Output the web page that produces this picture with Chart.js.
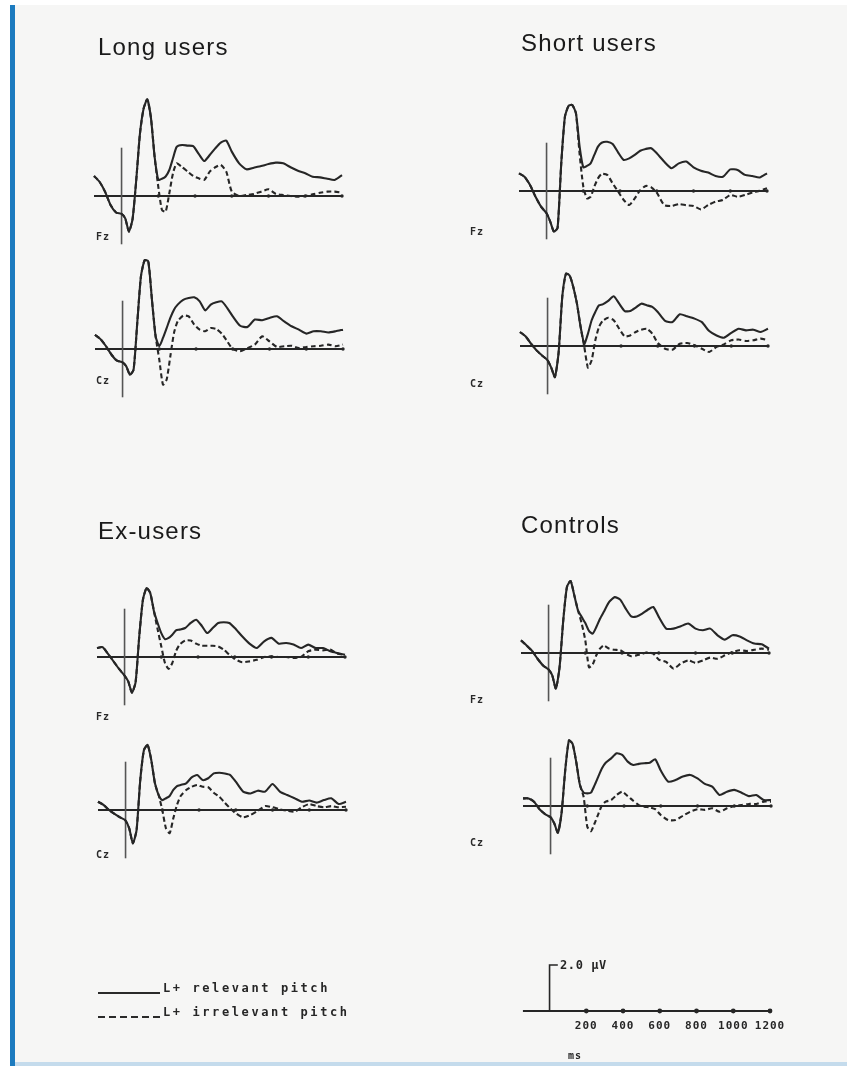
<!DOCTYPE html>
<html>
<head>
<meta charset="utf-8">
<script src="https://cdn.jsdelivr.net/npm/chart.js@4.4.1/dist/chart.umd.min.js"></script>
<style>
  html, body { margin: 0; padding: 0; }
  body { width: 847px; height: 1066px; background: #fff; position: relative; overflow: hidden; }
  #sheet { position: absolute; left: 15px; top: 5px; width: 832px; height: 1057px; background: #f6f6f5; }
  #bar { position: absolute; left: 10px; top: 5px; width: 5px; height: 1061px; background: #1c7bbf; }
  #foot { position: absolute; left: 15px; top: 1062px; width: 832px; height: 4px; background: #c4dbec; }
  #fig { position: absolute; left: 0; top: 0; width: 847px; height: 1066px; filter: blur(0.4px); }
  canvas { position: absolute; }
  .title { position: absolute; font-family: "Liberation Sans", Arial, sans-serif; font-size: 24px;
           line-height: 24px; letter-spacing: 1.2px; color: #1a1a1a; white-space: nowrap; }
  .site { position: absolute; font-family: "DejaVu Sans Mono", monospace; font-weight: bold;
          font-size: 10px; line-height: 12px; letter-spacing: 1px; color: #2a2a2a; }
  .mono { position: absolute; font-family: "DejaVu Sans Mono", monospace; font-weight: bold;
          font-size: 12px; line-height: 14px; color: #262626; white-space: nowrap; }
</style>
</head>
<body>
<div id="sheet"></div>
<div id="bar"></div>
<div id="foot"></div>
<div id="fig">
  <div class="title" style="left:98px; top:35px;">Long users</div>
  <div class="title" style="left:521px; top:31px;">Short users</div>
  <div class="title" style="left:98px; top:519px;">Ex-users</div>
  <div class="title" style="left:521px; top:513px;">Controls</div>

  <div class="site" style="left:96px; top:231px;">Fz</div>
  <div class="site" style="left:96px; top:375px;">Cz</div>
  <div class="site" style="left:470px; top:226px;">Fz</div>
  <div class="site" style="left:470px; top:378px;">Cz</div>
  <div class="site" style="left:96px; top:711px;">Fz</div>
  <div class="site" style="left:96px; top:849px;">Cz</div>
  <div class="site" style="left:470px; top:694px;">Fz</div>
  <div class="site" style="left:470px; top:837px;">Cz</div>

  <canvas id="longFz"></canvas>
  <canvas id="longCz"></canvas>
  <canvas id="shortFz"></canvas>
  <canvas id="shortCz"></canvas>
  <canvas id="exFz"></canvas>
  <canvas id="exCz"></canvas>
  <canvas id="ctrlFz"></canvas>
  <canvas id="ctrlCz"></canvas>
  <canvas id="scaleBar"></canvas>

  <svg style="position:absolute; left:96px; top:985px;" width="66" height="40">
    <line x1="2" y1="8" x2="64" y2="8" stroke="#2a2a2a" stroke-width="2"/>
    <line x1="2" y1="32" x2="64" y2="32" stroke="#2a2a2a" stroke-width="2" stroke-dasharray="7,4"/>
  </svg>
  <div class="mono" style="left:163px; top:981px; letter-spacing:2.6px;">L+ relevant pitch</div>
  <div class="mono" style="left:163px; top:1005px; letter-spacing:2.6px;">L+ irrelevant pitch</div>

  <div class="mono" style="left:560px; top:958px; letter-spacing:0.6px;">2.0 µV</div>
  <div class="mono" style="left:568px; top:1049px; font-size:10px; letter-spacing:1px;">ms</div>
</div>

<script>
// time axis (ms) shared by every trace
const times = [-150, -120, -90, -60, -30, 0, 20, 40, 60, 80, 100, 120, 140, 160, 180,
  200, 220, 240, 260, 280, 300, 330, 360, 390, 420, 450, 480, 510, 540, 570,
  600, 640, 680, 720, 760, 800, 840, 880, 920, 960, 1000, 1040, 1080, 1120, 1160, 1200];
const scaleTicks = [200, 400, 600, 800, 1000, 1200];
const stimHalf = 2.1;      // stimulus marker, µV either side of baseline
const scaleBarUV = 2.0;

// amplitudes in µV (positive up), L+ relevant = solid, L+ irrelevant = dashed
const longFzRel = [0.87, 0.62, 0.19, -0.39, -0.72, -0.78, -0.97, -1.55, -1.0, 0.7, 2.7, 3.8, 4.2, 3.4, 1.7,
  0.7, 0.75, 0.85, 1.13, 1.64, 2.14, 2.22, 2.19, 2.17, 1.83, 1.52, 1.78, 2.07, 2.32, 2.41,
  1.93, 1.42, 1.16, 1.23, 1.3, 1.39, 1.45, 1.42, 1.25, 1.1, 0.99, 0.84, 0.81, 0.75, 0.7, 0.91];
const longFzIrr = [0.87, 0.62, 0.19, -0.39, -0.72, -0.78, -0.97, -1.55, -1.0, 0.7, 2.7, 3.8, 4.2, 3.4, 1.7,
  0.4, -0.61, -0.68, 0.12, 0.99, 1.42, 1.25, 1.06, 0.87, 0.77, 0.7, 1.06, 1.25, 1.35, 1.06,
  0.19, 0, 0.04, 0.09, 0.19, 0.29, 0.09, 0.04, 0, -0.03, 0, 0.07, 0.14, 0.19, 0.19, 0.14];

const longCzRel = [0.62, 0.43, 0.12, -0.25, -0.51, -0.58, -0.75, -1.12, -0.9, 1.13, 3.16, 3.86, 3.81, 2.14, 0.55,
  0.12, 0.48, 0.91, 1.35, 1.71, 1.93, 2.14, 2.22, 2.25, 2.07, 1.68, 1.93, 2.03, 2.07, 1.78,
  1.42, 1.01, 0.96, 1.28, 1.25, 1.35, 1.42, 1.2, 0.99, 0.84, 0.67, 0.77, 0.77, 0.72, 0.77, 0.84];
const longCzIrr = [0.62, 0.43, 0.12, -0.25, -0.51, -0.58, -0.75, -1.12, -0.9, 1.13, 3.16, 3.86, 3.81, 2.14, 0.55,
  -0.46, -1.55, -1.33, -0.32, 0.7, 1.2, 1.45, 1.42, 1.06, 0.84, 0.77, 0.91, 0.87, 0.67, 0.33,
  0, -0.1, 0.04, 0.19, 0.55, 0.33, 0.09, 0.12, 0.14, 0.04, 0.09, 0.12, 0.14, 0.19, 0.12, 0.19];

const shortFzRel = [0.77, 0.62, 0.26, -0.25, -0.68, -0.97, -1.33, -1.77, -1.6, 1.2, 3.23, 3.7, 3.74, 3.38, 1.93,
  1.03, 1.09, 1.2, 1.57, 1.93, 2.1, 2.14, 2.04, 1.67, 1.35, 1.42, 1.57, 1.75, 1.83, 1.86,
  1.64, 1.28, 0.99, 1.2, 1.28, 1.03, 0.88, 0.8, 0.65, 0.62, 0.94, 0.91, 0.7, 0.65, 0.59, 0.77];
const shortFzIrr = [0.77, 0.62, 0.26, -0.25, -0.68, -0.97, -1.33, -1.77, -1.6, 1.2, 3.23, 3.7, 3.74, 3.38, 1.6,
  0.19, -0.32, -0.25, 0.19, 0.55, 0.74, 0.7, 0.33, -0.03, -0.39, -0.61, -0.32, 0.04, 0.22, 0.16,
  -0.07, -0.61, -0.65, -0.57, -0.62, -0.65, -0.8, -0.61, -0.46, -0.39, -0.17, -0.25, -0.17, -0.07, 0.01, 0.12];

const shortCzRel = [0.61, 0.42, 0.1, -0.19, -0.41, -0.62, -0.94, -1.35, -0.3, 2.13, 3.14, 3.07, 2.57, 1.84, 0.83,
  0.1, 0.54, 1.12, 1.48, 1.77, 1.81, 1.96, 2.16, 1.84, 1.52, 1.52, 1.67, 1.84, 1.77, 1.7,
  1.48, 1.09, 1.04, 1.38, 1.29, 1.19, 1.04, 0.65, 0.46, 0.36, 0.57, 0.75, 0.68, 0.71, 0.61, 0.75];
const shortCzIrr = [0.61, 0.42, 0.1, -0.19, -0.41, -0.62, -0.94, -1.35, -0.3, 2.13, 3.14, 3.07, 2.57, 1.84, 0.83,
  -0.04, -0.94, -0.62, 0.25, 0.83, 1.09, 1.23, 1.12, 0.75, 0.42, 0.46, 0.61, 0.71, 0.75, 0.54,
  0.13, -0.12, -0.16, 0.1, 0.13, 0.03, -0.12, -0.26, -0.04, 0.07, 0.25, 0.28, 0.22, 0.25, 0.32, 0.25];

const exFzRel = [0.39, 0.43, 0.14, -0.19, -0.52, -0.81, -1.06, -1.55, -1.1, 0.9, 2.49, 3.0, 2.78, 1.99, 1.48,
  1.04, 0.78, 0.83, 0.97, 1.16, 1.19, 1.26, 1.48, 1.62, 1.36, 1.04, 1.26, 1.48, 1.51, 1.48,
  1.26, 0.9, 0.58, 0.39, 0.68, 0.83, 0.58, 0.61, 0.54, 0.39, 0.54, 0.39, 0.39, 0.25, 0.17, 0.1];
const exFzIrr = [0.39, 0.43, 0.14, -0.19, -0.52, -0.81, -1.06, -1.55, -1.1, 0.9, 2.49, 3.0, 2.78, 1.99, 1.2,
  0.46, -0.26, -0.52, -0.26, 0.25, 0.54, 0.72, 0.72, 0.58, 0.49, 0.49, 0.49, 0.46, 0.32, 0.1,
  -0.09, -0.23, -0.19, -0.12, 0, 0.03, 0, 0, -0.04, 0, 0.25, 0.32, 0.29, 0.32, 0.14, 0.1];

const exCzRel = [0.36, 0.22, 0, -0.17, -0.32, -0.46, -0.8, -1.45, -0.87, 1.3, 2.61, 2.83, 2.17, 1.16, 0.65,
  0.43, 0.51, 0.61, 0.87, 1.04, 1.09, 1.16, 1.42, 1.52, 1.3, 1.38, 1.59, 1.62, 1.59, 1.52,
  1.23, 0.8, 0.72, 0.84, 0.8, 1.13, 0.8, 0.65, 0.51, 0.36, 0.41, 0.32, 0.43, 0.51, 0.26, 0.36];
const exCzIrr = [0.36, 0.22, 0, -0.17, -0.32, -0.46, -0.8, -1.45, -0.87, 1.3, 2.61, 2.83, 2.17, 1.16, 0.65,
  0, -0.8, -1.01, -0.36, 0.22, 0.61, 0.87, 1.01, 1.09, 1.01, 0.99, 0.75, 0.58, 0.32, 0.07,
  -0.14, -0.32, -0.22, -0.03, 0.17, 0.12, 0.03, -0.03, -0.07, 0.12, 0.26, 0.17, 0.12, 0.17, 0.12, 0.14];

const ctrlFzRel = [0.55, 0.33, 0.09, -0.25, -0.54, -0.72, -0.97, -1.55, -0.61, 1.42, 2.87, 3.13, 2.51, 1.86, 1.57,
  1.3, 0.96, 0.84, 1.13, 1.49, 1.78, 2.22, 2.43, 2.32, 1.93, 1.59, 1.59, 1.71, 1.88, 2.0,
  1.57, 1.06, 1.06, 1.16, 1.28, 1.06, 0.99, 1.06, 0.77, 0.58, 0.77, 0.72, 0.55, 0.41, 0.38, 0.19];
const ctrlFzIrr = [0.55, 0.33, 0.09, -0.25, -0.54, -0.72, -0.97, -1.55, -0.61, 1.42, 2.87, 3.13, 2.51, 1.86, 1.3,
  0.55, -0.62, -0.5, -0.1, 0.19, 0.33, 0.19, 0.14, 0.12, -0.03, -0.14, -0.1, -0.03, 0.03, -0.03,
  -0.29, -0.39, -0.68, -0.46, -0.32, -0.43, -0.32, -0.2, -0.25, -0.1, 0.04, 0.12, 0.09, 0.14, 0.19, 0.14];

const ctrlCzRel = [0.33, 0.33, 0.19, -0.14, -0.35, -0.49, -0.75, -1.16, -0.3, 1.57, 2.85, 2.7, 1.9, 0.91, 0.58,
  0.55, 0.58, 0.91, 1.28, 1.64, 1.88, 2.07, 2.29, 2.22, 1.93, 1.78, 1.83, 1.86, 1.88, 2.03,
  1.54, 1.06, 1.13, 1.28, 1.35, 1.2, 0.96, 0.84, 0.48, 0.62, 0.7, 0.58, 0.43, 0.48, 0.26, 0.26];
const ctrlCzIrr = [0.33, 0.33, 0.19, -0.14, -0.35, -0.49, -0.75, -1.16, -0.3, 1.57, 2.85, 2.7, 1.9, 0.91, 0.4,
  -0.9, -1.1, -0.75, -0.35, 0.04, 0.19, 0.26, 0.48, 0.62, 0.43, 0.23, 0.04, -0.03, -0.06, -0.14,
  -0.39, -0.61, -0.61, -0.43, -0.25, -0.14, -0.17, -0.1, -0.25, -0.1, 0, 0.04, 0.09, 0.09, 0.19, 0.19];

// geometry: every panel shares the same ms and µV scale
const T_MIN = -150, T_MAX = 1200, UV_MIN = -3, UV_MAX = 5;
const AREA_W = 248, PX_PER_UV = 23, PAD = 24;
const INK = "#262626";

const panels = [
  { id: "longFz",  left: 94,  base: 196, rel: longFzRel,  irr: longFzIrr },
  { id: "longCz",  left: 95,  base: 349, rel: longCzRel,  irr: longCzIrr },
  { id: "shortFz", left: 519, base: 191, rel: shortFzRel, irr: shortFzIrr },
  { id: "shortCz", left: 520, base: 346, rel: shortCzRel, irr: shortCzIrr },
  { id: "exFz",    left: 97,  base: 657, rel: exFzRel,    irr: exFzIrr },
  { id: "exCz",    left: 98,  base: 810, rel: exCzRel,    irr: exCzIrr },
  { id: "ctrlFz",  left: 521, base: 653, rel: ctrlFzRel,  irr: ctrlFzIrr },
  { id: "ctrlCz",  left: 523, base: 806, rel: ctrlCzRel,  irr: ctrlCzIrr },
];

function placeCanvas(el, left, base) {
  el.width = AREA_W + 2 * PAD;
  el.height = (UV_MAX - UV_MIN) * PX_PER_UV + 2 * PAD;
  el.style.left = (left - PAD) + "px";
  el.style.top = (base - UV_MAX * PX_PER_UV - PAD) + "px";
}

function pts(ys) {
  return times.map((t, i) => ({ x: t, y: ys[i] }));
}

function baseline(start, dotR) {
  return {
    data: [{ x: start, y: 0 }, { x: 0, y: 0 }].concat(scaleTicks.map(t => ({ x: t, y: 0 }))),
    borderColor: INK, borderWidth: 2,
    pointRadius: ctx => (ctx.raw && ctx.raw.x > 0 ? dotR : 0),
    pointBackgroundColor: INK, pointBorderWidth: 0,
    order: 3
  };
}

const baseOptions = {
  responsive: false,
  animation: false,
  events: [],
  layout: { padding: PAD },
  plugins: { legend: { display: false }, tooltip: { enabled: false } },
  scales: {
    x: { type: "linear", min: T_MIN, max: T_MAX, display: false },
    y: { type: "linear", min: UV_MIN, max: UV_MAX, display: false }
  },
  elements: { line: { tension: 0.2 } },
  datasets: { line: { clip: false, parsing: false } }
};

panels.forEach(p => {
  const el = document.getElementById(p.id);
  placeCanvas(el, p.left, p.base);
  new Chart(el, {
    type: "line",
    data: {
      datasets: [
        { data: pts(p.rel), borderColor: INK, borderWidth: 2.1, pointRadius: 0, order: 0 },
        { data: pts(p.irr), borderColor: INK, borderWidth: 2.1, borderDash: [5, 3], pointRadius: 0, order: 1 },
        { data: [{ x: 0, y: -stimHalf }, { x: 0, y: stimHalf }], borderColor: "#555", borderWidth: 1.6,
          pointRadius: 0, tension: 0, order: 2 },
        baseline(T_MIN, 1.7)
      ]
    },
    options: baseOptions
  });
});

// calibration: 2.0 µV bar and ms axis
const tickLabels = {
  id: "tickLabels",
  afterDatasetsDraw(chart) {
    const { ctx, scales } = chart;
    ctx.save();
    ctx.font = "bold 11px 'DejaVu Sans Mono'";
    ctx.letterSpacing = "1px";
    ctx.fillStyle = INK;
    ctx.textAlign = "center";
    ctx.textBaseline = "middle";
    scaleTicks.forEach(t => {
      ctx.fillText(String(t), scales.x.getPixelForValue(t), scales.y.getPixelForValue(0) + 15);
    });
    ctx.restore();
  }
};

const sb = document.getElementById("scaleBar");
placeCanvas(sb, 522, 1011);
new Chart(sb, {
  type: "line",
  data: {
    datasets: [
      { data: [{ x: 0, y: 0 }, { x: 0, y: scaleBarUV }, { x: 45, y: scaleBarUV }], borderColor: INK,
        borderWidth: 1.6, pointRadius: 0, tension: 0, order: 0 },
      baseline(-145, 2.4)
    ]
  },
  options: baseOptions,
  plugins: [tickLabels]
});
</script>
</body>
</html>
